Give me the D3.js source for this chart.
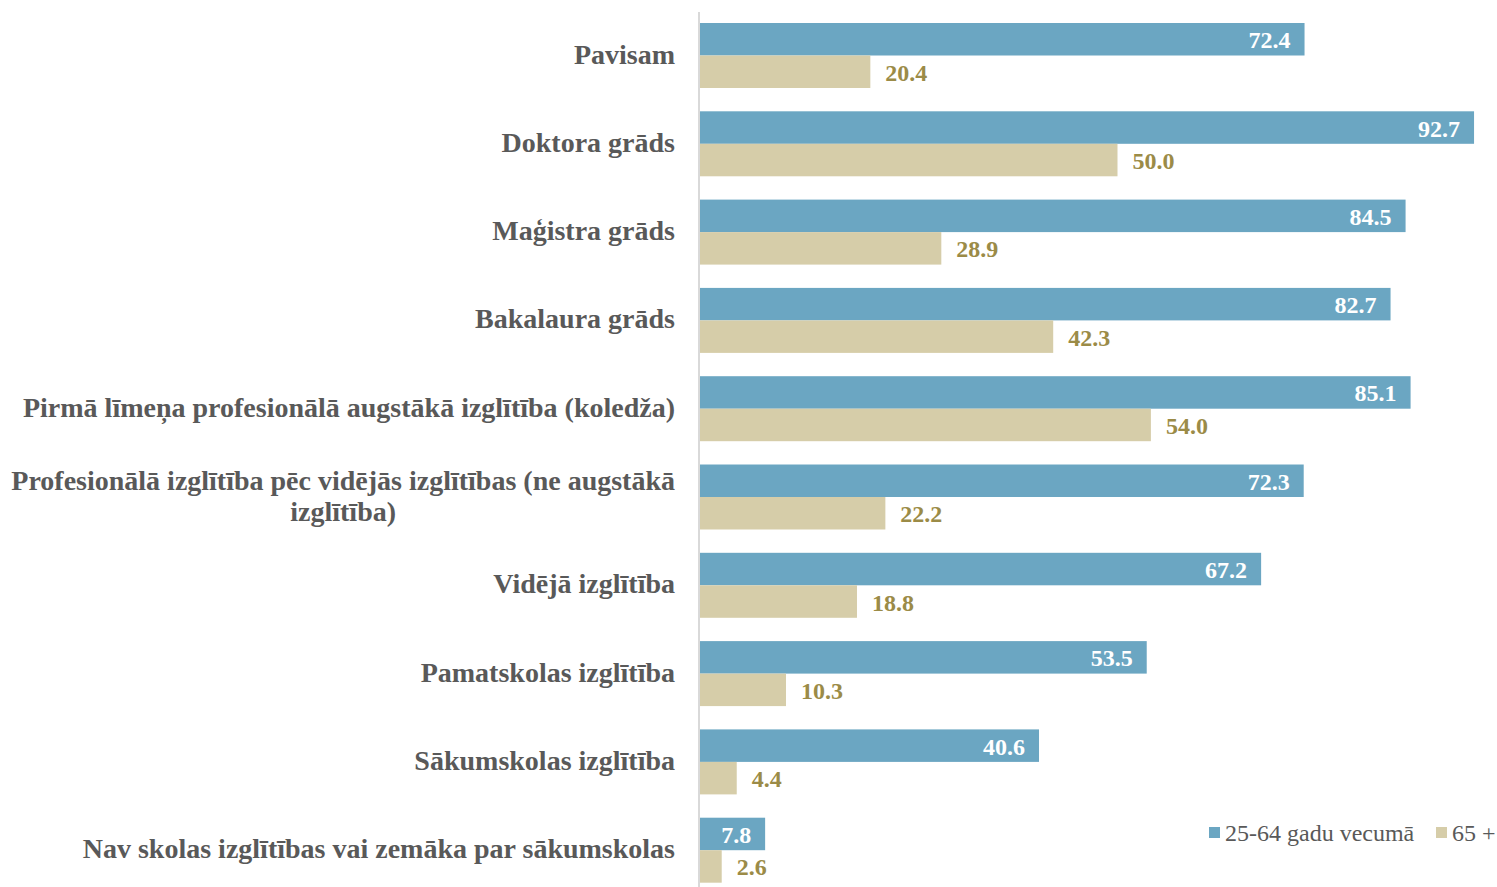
<!DOCTYPE html>
<html>
<head>
<meta charset="utf-8">
<script src="https://cdn.jsdelivr.net/npm/d3@7"></script>
<style>
  body { margin: 0; background: #fff; }
  svg { display: block; }
</style>
</head>
<body>
<svg id="chart" width="1497" height="887"></svg>
<script>
// data
const categories = [
  'Pavisam',
  'Doktora grāds',
  'Maģistra grāds',
  'Bakalaura grāds',
  'Pirmā līmeņa profesionālā augstākā izglītība (koledža)',
  'Profesionālā izglītība pēc vidējās izglītības (ne augstākā izglītība)',
  'Vidējā izglītība',
  'Pamatskolas izglītība',
  'Sākumskolas izglītība',
  'Nav skolas izglītības vai zemāka par sākumskolas'
];
const seriesNames = ['25-64 gadu vecumā', '65 +'];
const ages25to64 = [72.4, 92.7, 84.5, 82.7, 85.1, 72.3, 67.2, 53.5, 40.6, 7.8];
const ages65plus = [20.4, 50.0, 28.9, 42.3, 54.0, 22.2, 18.8, 10.3, 4.4, 2.6];

const colors = ['#6ba6c2', '#d6cda9'];
const serif = '"Liberation Serif", "Times New Roman", serif';

const svg = d3.select('#chart');
const x0 = 700;

const x = d3.scaleLinear().domain([0, 100]).range([x0, x0 + 835]);

const y = d3.scaleBand()
  .domain(categories)
  .range([11.35, 894.35])
  .paddingInner(0.264)
  .paddingOuter(0.132);

const ySub = d3.scaleBand().domain(seriesNames).range([0, y.bandwidth()]);

const rows = categories.map((c, i) => ({
  cat: c,
  values: [
    { s: seriesNames[0], v: ages25to64[i] },
    { s: seriesNames[1], v: ages65plus[i] }
  ]
}));

// bars
const groups = svg.append('g').selectAll('g')
  .data(rows)
  .enter().append('g')
    .attr('transform', d => `translate(0, ${y(d.cat)})`);

groups.selectAll('rect')
  .data(d => d.values)
  .enter().append('rect')
    .attr('x', x(0))
    .attr('y', d => ySub(d.s))
    .attr('width', d => x(d.v) - x(0))
    .attr('height', ySub.bandwidth())
    .attr('fill', (d, i) => colors[i]);

groups.selectAll('text.val')
  .data(d => d.values)
  .enter().append('text')
    .attr('class', 'val')
    .attr('x', (d, i) => i === 0 ? x(d.v) - 14 : x(d.v) + 15)
    .attr('y', d => ySub(d.s) + ySub.bandwidth() / 2 + 9)
    .attr('text-anchor', (d, i) => i === 0 ? 'end' : 'start')
    .attr('fill', (d, i) => i === 0 ? '#ffffff' : '#9b8b47')
    .style('font-family', serif)
    .style('font-weight', 'bold')
    .style('font-size', '24px')
    .text(d => d.v.toFixed(1));

// axis line
svg.append('line')
  .attr('x1', x0 - 1).attr('x2', x0 - 1)
  .attr('y1', 12).attr('y2', 887)
  .attr('stroke', '#d9d9d9')
  .attr('stroke-width', 2);

// category labels, wrapped and centred as a block, block right aligned
const labelRight = 675;
const maxW = 668;
const lineH = 31;

categories.forEach(c => {
  const t = svg.append('text')
    .style('font-family', serif)
    .style('font-weight', 'bold')
    .style('font-size', '28px')
    .attr('fill', '#595959');

  // wrap words
  const words = c.split(' ');
  const lines = [];
  let line = [];
  const probe = t.append('tspan');
  words.forEach(w => {
    const test = line.concat(w).join(' ');
    probe.text(test);
    if (probe.node().getComputedTextLength() > maxW && line.length) {
      lines.push(line.join(' '));
      line = [w];
    } else {
      line.push(w);
    }
  });
  lines.push(line.join(' '));

  const widths = lines.map(l => { probe.text(l); return probe.node().getComputedTextLength(); });
  probe.remove();
  const blockW = d3.max(widths);
  const cx = labelRight - blockW / 2;
  const cy = y(c) + y.bandwidth() / 2 + 8;

  lines.forEach((l, i) => {
    t.append('tspan')
      .attr('x', cx)
      .attr('y', cy + (i - (lines.length - 1) / 2) * lineH)
      .attr('text-anchor', 'middle')
      .text(l);
  });
});

// legend
const legend = svg.append('g').attr('transform', 'translate(1209, 827)');
const legX = [0, 227];
seriesNames.forEach((s, i) => {
  legend.append('rect')
    .attr('x', legX[i]).attr('y', 0)
    .attr('width', 11).attr('height', 11)
    .attr('fill', colors[i]);
  legend.append('text')
    .attr('x', legX[i] + 16)
    .attr('y', 14)
    .attr('fill', '#595959')
    .style('font-family', serif)
    .style('font-size', '24px')
    .text(s);
});
</script>
</body>
</html>
